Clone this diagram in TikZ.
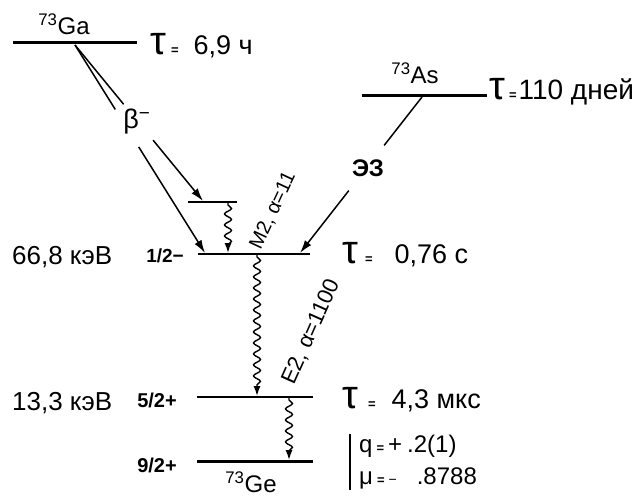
\documentclass[tikz,border=0pt]{standalone}
\usepackage{fontspec}
\setmainfont{Liberation Sans}
\usetikzlibrary{arrows.meta,decorations.pathmorphing,calc}
\newcommand{\smeq}{{\fontsize{13}{13}\selectfont\bfseries =}}
\begin{document}
\begin{tikzpicture}[x=1pt,y=-1pt,
  lvl/.style={line width=2pt},
  lvlthick/.style={line width=3pt},
  conn/.style={line width=1.5pt},
  tipd/.style={conn,-{Latex[length=13pt,width=8pt]}},
  wave/.style={line width=1.4pt,-{Latex[length=10pt,width=7pt]},decorate,
    decoration={snake,amplitude=3.5pt,segment length=11pt,post length=8pt,pre length=2pt}},
  lab/.style={inner sep=0pt},
]
\useasboundingbox (0,0) rectangle (642,497);
% levels
\coordinate (gaL) at (13,43); \coordinate (gaR) at (137,43);
\coordinate (asL) at (362,96); \coordinate (asR) at (487,96);
\coordinate (imL) at (188,202); \coordinate (imR) at (237,202);
\coordinate (hL) at (198,254); \coordinate (hR) at (310,254);
\coordinate (fL) at (197,397); \coordinate (fR) at (313,397);
\coordinate (gL) at (197,461); \coordinate (gR) at (313,461);
\draw[lvlthick] (gaL) -- (gaR);
\draw[lvlthick] (asL) -- (asR);
\draw[lvl] (imL) -- (imR);
\draw[lvl] (hL) -- (hR);
\draw[lvl] (fL) -- (fR);
\draw[lvlthick] (gL) -- (gR);
% beta decay
\coordinate (gaO) at (75,45);
\coordinate (b1) at (205,253);
\coordinate (b2) at (203,201);
\draw[conn] (gaO) -- ($(gaO)!0.31!(b1)$);
\draw[tipd] ($(gaO)!0.49!(b1)$) -- (b1);
\draw[conn] (gaO) -- ($(gaO)!0.38!(b2)$);
\draw[tipd] ($(gaO)!0.61!(b2)$) -- (b2);
\node[lab,font=\fontsize{27}{27}\selectfont] (beta) at (137,122) {β\textsuperscript{−}};
% EC
\coordinate (asO) at (422,97);
\coordinate (ec) at (300,253);
\draw[conn] (asO) -- ($(asO)!0.31!(ec)$);
\draw[tipd] ($(asO)!0.6!(ec)$) -- (ec);
\node[lab,font=\fontsize{24}{24}\selectfont\bfseries] (ecl) at (368,168) {ЭЗ};
% gamma transitions
\coordinate (w1a) at (228,203); \coordinate (w1b) at (228,253);
\coordinate (w2a) at (257,255); \coordinate (w2b) at (257,396);
\coordinate (w3a) at (289,398); \coordinate (w3b) at (289,460);
\draw[wave] (w1a) -- (w1b);
\draw[wave] (w2a) -- (w2b);
\draw[wave] (w3a) -- (w3b);
\node[lab,rotate=65,font=\fontsize{20}{20}\selectfont] (m2) at (273,211) {M2, α=11};
\node[lab,rotate=66,font=\fontsize{22}{22}\selectfont] (e2) at (311,332) {E2, α=1100};
% nuclide labels
\node[lab,font=\fontsize{24}{24}\selectfont] (ga) at (64,24) {\textsuperscript{73}Ga};
\node[lab,font=\fontsize{24}{24}\selectfont] (as) at (415,73) {\textsuperscript{73}As};
\node[lab,font=\fontsize{24}{24}\selectfont] (ge) at (251,482) {\textsuperscript{73}Ge};
% spin labels
\node[lab,anchor=east,font=\fontsize{19}{19}\selectfont\bfseries] (s1) at (184,256) {1/2−};
\node[lab,anchor=east,font=\fontsize{20}{20}\selectfont\bfseries] (s2) at (177,400) {5/2+};
\node[lab,anchor=east,font=\fontsize{20}{20}\selectfont\bfseries] (s3) at (177,465) {9/2+};
% energies
\node[lab,anchor=base west,font=\fontsize{26}{26}\selectfont] (en1) at (12,264) {66,8 кэВ};
\node[lab,anchor=base west,font=\fontsize{26}{26}\selectfont] (en2) at (12,410) {13,3 кэВ};
% lifetimes
\node[lab,anchor=base west] (t1) at (150,55) {{\fontsize{40}{40}\selectfont τ}\hspace{5pt}\smeq\hspace{15pt}{\fontsize{27}{27}\selectfont 6,9 ч}};
\node[lab,anchor=base west] (t2) at (489,100) {{\fontsize{40}{40}\selectfont τ}\hspace{4pt}\smeq\hspace{2pt}{\fontsize{28}{28}\selectfont 110 дней}};
\node[lab,anchor=base west] (t3) at (342,263) {{\fontsize{40}{40}\selectfont τ}\hspace{7pt}\smeq\hspace{22pt}{\fontsize{27}{27}\selectfont 0,76 с}};
\node[lab,anchor=base west] (t4) at (342,408) {{\fontsize{40}{40}\selectfont τ}\hspace{10pt}\smeq\hspace{16pt}{\fontsize{27}{27}\selectfont 4,3 мкс}};
% moments
\coordinate (brT) at (350,434); \coordinate (brB) at (350,490);
\draw[line width=1.3pt] (brT) -- (brB);
\node[lab,anchor=base west,font=\fontsize{24}{24}\selectfont] (q) at (359,452) {q\hspace{4pt}\smeq\hspace{4pt}+\hspace{5pt}.2(1)};
\node[lab,anchor=base west,font=\fontsize{24}{24}\selectfont] (mu) at (359,484) {μ\hspace{4pt}\smeq\hspace{4pt}{\fontsize{14}{14}\selectfont −}\hspace{20pt}.8788};
\end{tikzpicture}
\end{document}
